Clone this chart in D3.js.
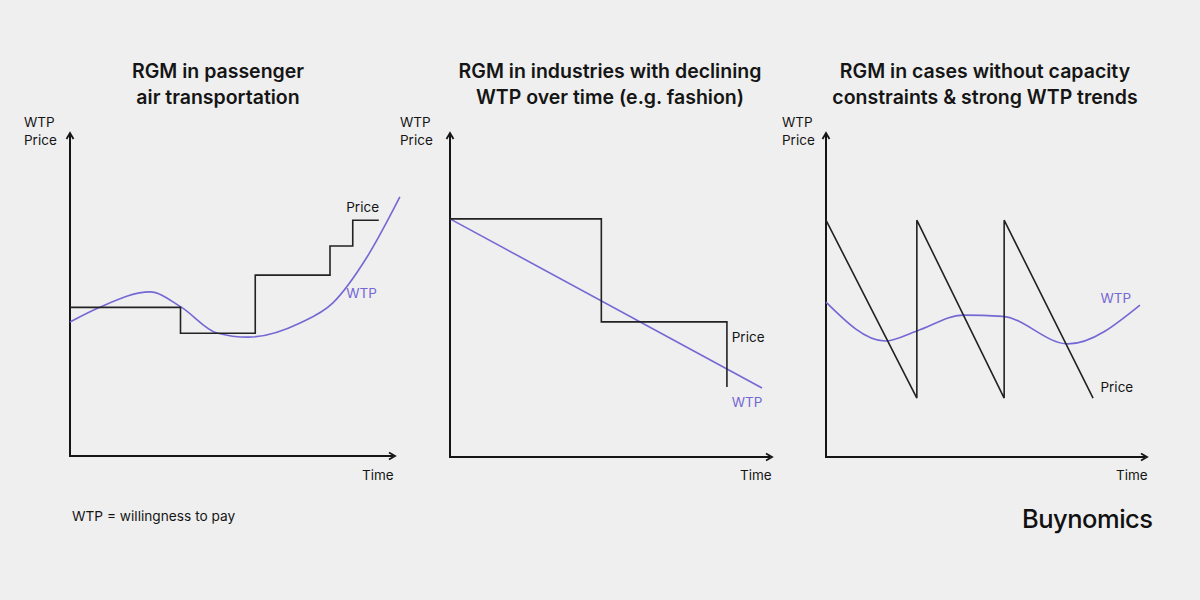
<!DOCTYPE html>
<html><head><meta charset="utf-8">
<script src="https://cdn.jsdelivr.net/npm/d3@7"></script>
<style>
html,body{margin:0;padding:0;background:#efefef;}
svg{display:block;font-family:Inter,"Noto Sans",sans-serif;}
</style></head>
<body><svg id="c" width="1200" height="600"></svg>
<script>
// ---- data (time 0-100, value 0-100) ----
const titles = [
  ["RGM in passenger", "air transportation"],
  ["RGM in industries with declining", "WTP over time (e.g. fashion)"],
  ["RGM in cases without capacity", "constraints & strong WTP trends"]
];
const axisLabelsY = ["WTP", "Price"];
const axisLabelX = "Time";
const footnote = "WTP = willingness to pay";
const brand = "Buynomics";

// Panel 1: stepped price, wavy WTP
const p1PriceT = [0, 34, 57, 80, 87, 95];
const p1PriceV = [46, 38, 56, 65, 73, 73];
const p1WtpT = [0, 9, 24.6, 34.2, 45.2, 54.8, 70.8, 80.9, 91.4, 101.5];
const p1WtpV = [41.5, 46, 50.8, 46.1, 38.1, 36.8, 41.2, 47.4, 61.6, 80.2];

// Panel 2: two markdowns, linear decline of WTP
const p2PriceT = [0, 47, 86];
const p2PriceV = [73.5, 41.7, 21.6];
const p2WtpT = [0, 96.9];
const p2WtpV = [73.5, 21.3];

// Panel 3: sawtooth price, wavy WTP
const p3PriceT = [0, 28.3, 28.3, 55.5, 55.5, 83.2];
const p3PriceV = [73.1, 18.2, 73.1, 18.2, 73.1, 18.2];
const p3WtpT = [0, 18.4, 28.3, 42.7, 55, 75.4, 97.8];
const p3WtpV = [47.8, 35.8, 38.9, 43.8, 43.4, 34.9, 46.9];

const zip = (t, v) => t.map((d, i) => ({t: d, v: v[i]}));

// ---- layout ----
const panels = [
  {x0: 70, x1: 395, y0: 456, y1: 133, cx: 218, axLblX: 24, timeX: 362,
   price: zip(p1PriceT, p1PriceV), priceCurve: d3.curveStepAfter,
   wtp: zip(p1WtpT, p1WtpV), wtpCurve: d3.curveMonotoneX,
   priceLbl: {t: 85, v: 75.5}, wtpLbl: {t: 85, v: 49}},
  {x0: 450, x1: 772, y0: 457, y1: 133, cx: 610, axLblX: 400, timeX: 740,
   price: zip(p2PriceT, p2PriceV), priceCurve: d3.curveStepAfter,
   wtp: zip(p2WtpT, p2WtpV), wtpCurve: d3.curveLinear,
   priceLbl: {t: 87.5, v: 35.5}, wtpLbl: {t: 87.5, v: 15.5}},
  {x0: 826, x1: 1147, y0: 457, y1: 133, cx: 985, axLblX: 782, timeX: 1116,
   price: zip(p3PriceT, p3PriceV), priceCurve: d3.curveLinear,
   wtp: zip(p3WtpT, p3WtpV), wtpCurve: d3.curveMonotoneX,
   priceLbl: {t: 85.5, v: 20}, wtpLbl: {t: 85.5, v: 47.5}}
];

const svg = d3.select("#c");
const purple = "#7468d4";
const ink = "#151515";

panels.forEach((p, pi) => {
  const x = d3.scaleLinear().domain([0, 100]).range([p.x0, p.x1]);
  const y = d3.scaleLinear().domain([0, 100]).range([p.y0, p.y1]);
  const g = svg.append("g");

  // title
  const tt = g.append("text").attr("x", p.cx).attr("text-anchor", "middle")
    .attr("font-size", 19.5).attr("font-weight", 600).attr("fill", ink);
  titles[pi].forEach((line, i) => {
    tt.append("tspan").attr("x", p.cx).attr("y", 78 + i * 26).text(line);
  });

  // axis labels
  axisLabelsY.forEach((s, i) => {
    g.append("text").attr("x", p.axLblX).attr("y", 127 + i * 18)
      .attr("font-size", 13.5).attr("fill", ink).text(s);
  });
  g.append("text").attr("x", p.timeX).attr("y", 480)
    .attr("font-size", 13.5).attr("fill", ink).text(axisLabelX);

  // axes with arrowheads
  g.append("line").attr("x1", x(0)).attr("x2", x(0)).attr("y1", y(0) + 1).attr("y2", y(100) + 2)
    .attr("stroke", ink).attr("stroke-width", 2);
  g.append("line").attr("x1", x(0) - 1).attr("x2", x(100) - 2).attr("y1", y(0)).attr("y2", y(0))
    .attr("stroke", ink).attr("stroke-width", 2);
  g.append("path").attr("d", `M${x(0) - 3.5},${y(100) + 6} L${x(0)},${y(100)} L${x(0) + 3.5},${y(100) + 6}`)
    .attr("fill", "none").attr("stroke", ink).attr("stroke-width", 1.8);
  g.append("path").attr("d", `M${x(100) - 6},${y(0) - 3.5} L${x(100)},${y(0)} L${x(100) - 6},${y(0) + 3.5}`)
    .attr("fill", "none").attr("stroke", ink).attr("stroke-width", 1.8);

  // WTP
  g.append("path").datum(p.wtp)
    .attr("d", d3.line().x(d => x(d.t)).y(d => y(d.v)).curve(p.wtpCurve))
    .attr("fill", "none").attr("stroke", purple).attr("stroke-width", 1.6);
  // Price
  g.append("path").datum(p.price)
    .attr("d", d3.line().x(d => x(d.t)).y(d => y(d.v)).curve(p.priceCurve))
    .attr("fill", "none").attr("stroke", "#222").attr("stroke-width", 1.6);

  g.append("text").attr("x", x(p.priceLbl.t)).attr("y", y(p.priceLbl.v))
    .attr("font-size", 13.5).attr("fill", ink).text("Price");
  g.append("text").attr("x", x(p.wtpLbl.t)).attr("y", y(p.wtpLbl.v))
    .attr("font-size", 13.5).attr("fill", purple).text("WTP");
});

svg.append("text").attr("x", 72).attr("y", 521).attr("font-size", 13.7).attr("fill", ink).text(footnote);
svg.append("text").attr("x", 1022).attr("y", 528).attr("font-size", 25.5).attr("font-weight", 500)
  .attr("letter-spacing", -0.5).attr("fill", "#111").text(brand);
</script></body></html>
